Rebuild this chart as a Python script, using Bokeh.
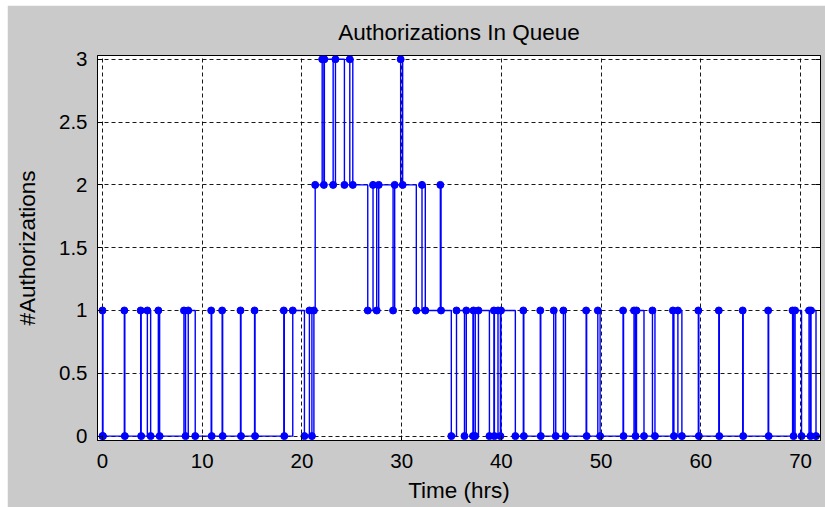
from bokeh.plotting import figure
from bokeh.models import FixedTicker, LinearAxis, Range1d, Spacer
from bokeh.layouts import column, row
from bokeh.embed import file_html
from bokeh.resources import INLINE

# ---------------- data ----------------
title_text = "Authorizations In Queue"
x_label = "Time (hrs)"
y_label = "#Authorizations"

x_ticks = [0, 10, 20, 30, 40, 50, 60, 70]
x_tick_labels = ["0", "10", "20", "30", "40", "50", "60", "70"]
y_ticks = [0, 0.5, 1, 1.5, 2, 2.5, 3]
y_tick_labels = ["0", "0.5", "1", "1.5", "2", "2.5", "3"]

t_start = 0.0
n_start = 0
t_end = 72.0

# event times (hrs) and number of authorizations in queue after each event
event_t = [
    0.0, 0.05, 2.19, 2.24, 3.83, 3.88, 4.5, 4.83, 5.6, 5.73,
    8.17, 8.33, 8.6, 9.3, 10.9, 10.95, 12.0, 12.05, 13.84, 13.89,
    15.25, 15.3, 18.18, 18.23, 19.08, 20.25, 20.75, 21.0, 21.2, 21.33,
    22.03, 22.2, 22.25, 23.13, 23.36, 24.26, 24.8, 25.1,
    26.6, 27.13, 27.5, 27.7, 29.14, 29.3, 29.9, 30.1, 31.47, 32.04, 32.37, 33.88, 33.95,
    34.98, 35.5, 36.3, 36.48, 37.15, 37.2, 37.38, 37.7, 38.8, 39.25, 39.3, 39.66, 39.9, 39.96, 41.4,
    42.2, 42.25, 43.9, 43.95, 45.25, 45.45, 46.22, 46.42, 48.5, 48.55,
    49.67, 49.9, 52.2, 52.25, 53.3, 53.45, 53.55, 54.3, 55.15, 55.4,
    57.2, 57.3, 57.7, 58.1, 59.75, 59.8, 61.8, 61.85, 64.2, 64.25,
    66.75, 66.8, 69.2, 69.3, 69.45, 70.1, 70.85, 71.0, 71.05, 71.55,
]
event_n = [
    1, 0, 1, 0, 1, 0, 1, 0, 1, 0,
    1, 0, 1, 0, 1, 0, 1, 0, 1, 0,
    1, 0, 1, 0, 1, 0, 1, 0, 1, 2,
    3, 2, 3, 2, 3, 2, 3, 2,
    1, 2, 1, 2, 1, 2, 3, 2, 1, 2, 1, 2, 1,
    0, 1, 0, 1, 0, 1, 0, 1, 0, 1, 0, 1, 0, 1, 0,
    1, 0, 1, 0, 1, 0, 1, 0, 1, 0,
    1, 0, 1, 0, 1, 0, 1, 0, 1, 0,
    1, 0, 1, 0, 1, 0, 1, 0, 1, 0,
    1, 0, 1, 0, 1, 0, 1, 0, 1, 0,
]

# ---------------- stairs construction ----------------
xs = [t_start]
ys = [n_start]
prev = n_start
for t, n in zip(event_t, event_n):
    xs += [t, t]
    ys += [prev, n]
    prev = n
xs.append(t_end)
ys.append(prev)

mx = [t_start] + event_t
my = [n_start] + event_n

FONT = "Liberation Sans"
BLUE = "#0000FF"
GRAY = "#CACACA"

fig = figure(
    width=818, height=502,
    x_range=Range1d(-0.5, 72), y_range=Range1d(-0.035, 3.03),
    output_backend="svg", toolbar_location=None,
    min_border_left=90, min_border_right=5, min_border_top=50, min_border_bottom=67,
    background_fill_color="white", border_fill_color=GRAY,
    outline_line_color="black", outline_line_width=1,
)

fig.title.text = title_text
fig.title.align = "center"
fig.title.text_font = FONT
fig.title.text_font_size = "22.5px"
fig.title.text_font_style = "normal"
fig.title.text_color = "black"
fig.title.standoff = 22

for ax, ticks, labels in ((fig.xaxis[0], x_ticks, x_tick_labels), (fig.yaxis[0], y_ticks, y_tick_labels)):
    ax.ticker = FixedTicker(ticks=ticks)
    ax.major_label_overrides = {tk: lb for tk, lb in zip(ticks, labels)}
    ax.major_label_text_font = FONT
    ax.major_label_text_font_size = "20.5px"
    ax.major_label_text_color = "black"
    ax.major_tick_in = 5
    ax.major_tick_out = 0
    ax.minor_tick_line_color = None
    ax.axis_line_color = "black"
    ax.major_tick_line_color = "black"
    ax.axis_label_text_font = FONT
    ax.axis_label_text_font_size = "22.5px"
    ax.axis_label_text_font_style = "normal"
    ax.axis_label_text_color = "black"

fig.xaxis.axis_label = x_label
fig.yaxis.axis_label = y_label
fig.xaxis.major_label_standoff = 13
fig.yaxis.major_label_standoff = 10
fig.xaxis.axis_label_standoff = 7
fig.yaxis.axis_label_standoff = 16

right_axis = LinearAxis(ticker=FixedTicker(ticks=y_ticks), major_label_text_font_size="0px",
                        major_label_standoff=0, major_tick_in=5, major_tick_out=0,
                        minor_tick_line_color=None, axis_line_color="black",
                        major_tick_line_color="black")
fig.add_layout(right_axis, "right")

for g in (fig.xgrid[0], fig.ygrid[0]):
    g.grid_line_color = "black"
    g.grid_line_dash = "4 3"
    g.grid_line_width = 1
    g.grid_line_alpha = 0.9
fig.xgrid.ticker = FixedTicker(ticks=x_ticks)
fig.ygrid.ticker = FixedTicker(ticks=y_ticks)

fig.line(xs, ys, line_color=BLUE, line_width=1.4)
fig.scatter(mx, my, marker="circle", size=7, fill_color=BLUE, line_color=BLUE)

p = column(Spacer(height=5), row(Spacer(width=7), fig))

open("out.html", "w").write(file_html(p, INLINE))
